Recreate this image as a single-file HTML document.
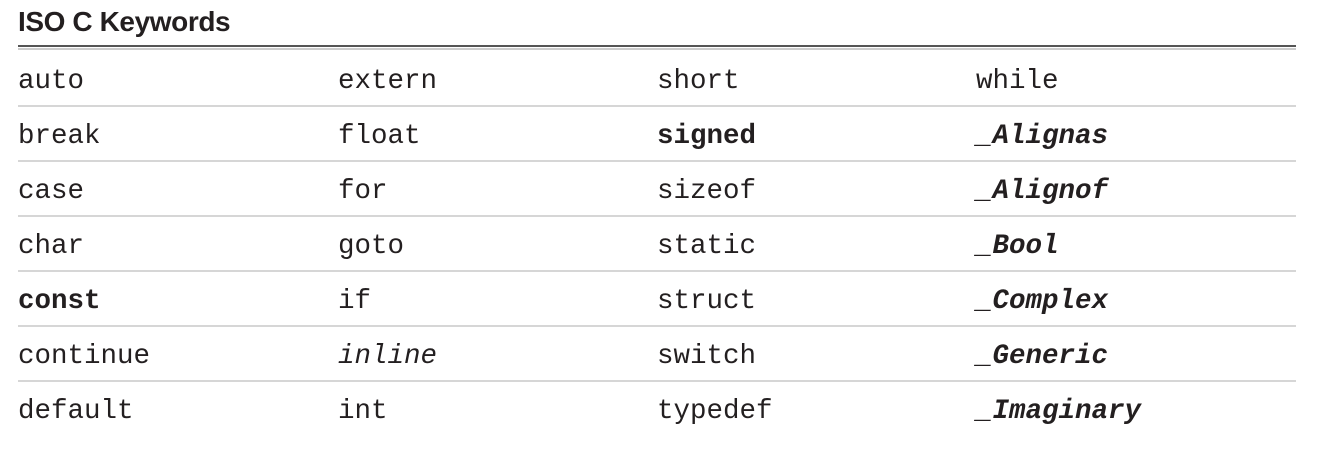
<!DOCTYPE html>
<html><head><style>
body{margin:0;width:1323px;height:469px;background:#fff;position:relative;overflow:hidden;font-family:"Liberation Mono",monospace;color:#231f20}
.t{position:absolute;left:18px;top:6px;font:bold 28px "Liberation Sans",sans-serif;letter-spacing:-0.4px}
.l{position:absolute;left:18px;width:1278px}
.c{position:absolute;font-size:27.5px;line-height:1;white-space:pre}
.b{font-weight:bold}.i{font-style:italic}
</style></head><body>
<div class="t">ISO C Keywords</div>
<div class="l" style="top:45px;height:2px;background:#555"></div>
<div class="l" style="top:48px;height:2px;background:#ccc"></div>
<div class="l" style="top:105px;height:2px;background:#d6d6d6"></div>
<div class="l" style="top:160px;height:2px;background:#d6d6d6"></div>
<div class="l" style="top:215px;height:2px;background:#d6d6d6"></div>
<div class="l" style="top:270px;height:2px;background:#d6d6d6"></div>
<div class="l" style="top:325px;height:2px;background:#d6d6d6"></div>
<div class="l" style="top:380px;height:2px;background:#d6d6d6"></div>

<div class="c" style="left:18px;top:68px">auto</div>
<div class="c" style="left:338px;top:68px">extern</div>
<div class="c" style="left:657px;top:68px">short</div>
<div class="c" style="left:976px;top:68px">while</div>

<div class="c" style="left:18px;top:123px">break</div>
<div class="c" style="left:338px;top:123px">float</div>
<div class="c b" style="left:657px;top:123px">signed</div>
<div class="c b i" style="left:976px;top:123px">_Alignas</div>

<div class="c" style="left:18px;top:178px">case</div>
<div class="c" style="left:338px;top:178px">for</div>
<div class="c" style="left:657px;top:178px">sizeof</div>
<div class="c b i" style="left:976px;top:178px">_Alignof</div>

<div class="c" style="left:18px;top:233px">char</div>
<div class="c" style="left:338px;top:233px">goto</div>
<div class="c" style="left:657px;top:233px">static</div>
<div class="c b i" style="left:976px;top:233px">_Bool</div>

<div class="c b" style="left:18px;top:288px">const</div>
<div class="c" style="left:338px;top:288px">if</div>
<div class="c" style="left:657px;top:288px">struct</div>
<div class="c b i" style="left:976px;top:288px">_Complex</div>

<div class="c" style="left:18px;top:343px">continue</div>
<div class="c i" style="left:338px;top:343px">inline</div>
<div class="c" style="left:657px;top:343px">switch</div>
<div class="c b i" style="left:976px;top:343px">_Generic</div>

<div class="c" style="left:18px;top:398px">default</div>
<div class="c" style="left:338px;top:398px">int</div>
<div class="c" style="left:657px;top:398px">typedef</div>
<div class="c b i" style="left:976px;top:398px">_Imaginary</div>
</body></html>
